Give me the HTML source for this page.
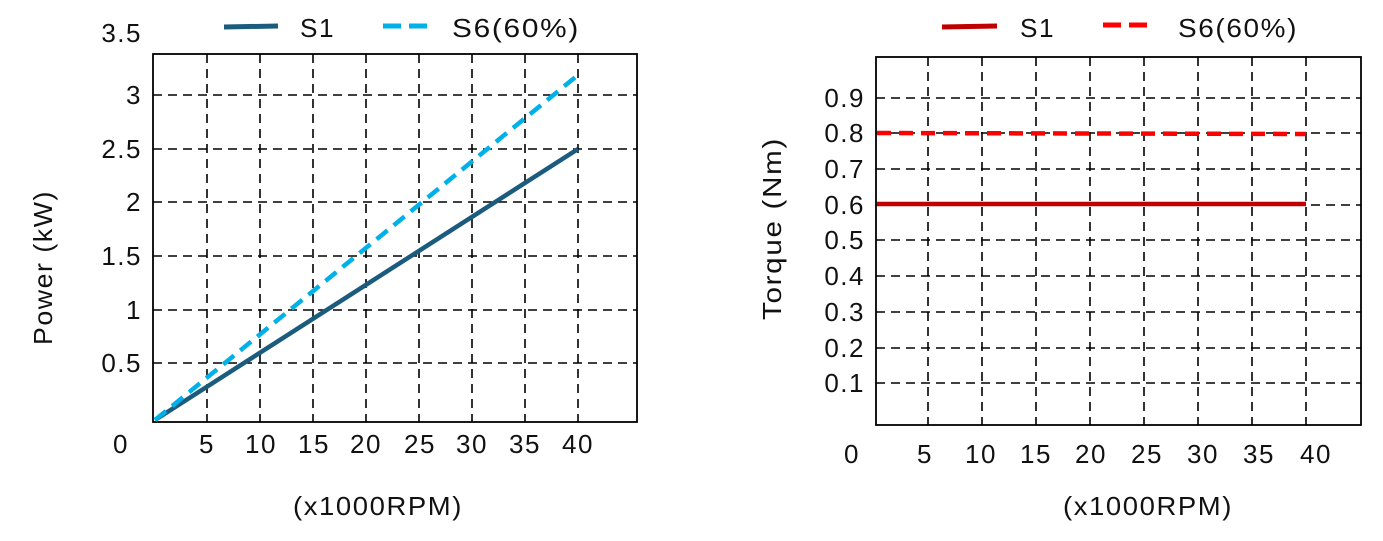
<!DOCTYPE html>
<html><head><meta charset="utf-8"><style>
body{margin:0;background:#fff;}
svg text{font-family:"Liberation Sans",sans-serif;font-size:26px;fill:#111;letter-spacing:1.5px;}
</style></head><body>
<svg width="1383" height="536" viewBox="0 0 1383 536" xmlns="http://www.w3.org/2000/svg">
<!-- LEFT CHART -->
<g stroke="#000" stroke-width="1.6" stroke-dasharray="9,6" fill="none">
<line x1="207" y1="54" x2="207" y2="422"/><line x1="260" y1="54" x2="260" y2="422"/>
<line x1="313" y1="54" x2="313" y2="422"/><line x1="366" y1="54" x2="366" y2="422"/>
<line x1="419" y1="54" x2="419" y2="422"/><line x1="472" y1="54" x2="472" y2="422"/>
<line x1="525" y1="54" x2="525" y2="422"/><line x1="578" y1="54" x2="578" y2="422"/>
<line x1="153" y1="95" x2="637" y2="95"/><line x1="153" y1="149" x2="637" y2="149"/>
<line x1="153" y1="202" x2="637" y2="202"/><line x1="153" y1="256" x2="637" y2="256"/>
<line x1="153" y1="310" x2="637" y2="310"/><line x1="153" y1="363" x2="637" y2="363"/>
</g>
<rect x="153" y="54" width="484" height="368" fill="none" stroke="#000" stroke-width="1.8"/>
<line x1="155" y1="420" x2="578" y2="149" stroke="#1b5c7e" stroke-width="4.5"/>
<line x1="155" y1="420" x2="578" y2="75" stroke="#00b0e8" stroke-width="4.5" stroke-dasharray="14,8"/>
<g text-anchor="end">
<text x="142" y="42">3.5</text><text x="142" y="104">3</text><text x="142" y="158">2.5</text>
<text x="142" y="211">2</text><text x="142" y="265">1.5</text><text x="142" y="319">1</text>
<text x="142" y="372">0.5</text>
</g>
<text x="121" y="453" text-anchor="middle">0</text>
<g text-anchor="middle">
<text x="207" y="453">5</text><text x="261" y="453">10</text><text x="314" y="453">15</text>
<text x="366" y="453">20</text><text x="420" y="453">25</text><text x="472" y="453">30</text>
<text x="525" y="453">35</text><text x="578" y="453">40</text>
</g>
<text x="293" y="515" textLength="170" lengthAdjust="spacingAndGlyphs">(x1000RPM)</text>
<text transform="translate(52,345) rotate(-90)" textLength="155" lengthAdjust="spacingAndGlyphs">Power (kW)</text>
<line x1="224" y1="27" x2="278" y2="26" stroke="#1b5c7e" stroke-width="5"/>
<text x="300" y="37" textLength="35" lengthAdjust="spacingAndGlyphs">S1</text>
<line x1="383" y1="26" x2="435" y2="26" stroke="#00b0e8" stroke-width="5" stroke-dasharray="18,8"/>
<text x="452" y="37" textLength="128" lengthAdjust="spacingAndGlyphs">S6(60%)</text>

<!-- RIGHT CHART -->
<g stroke="#000" stroke-width="1.6" stroke-dasharray="9,6" fill="none">
<line x1="928" y1="57" x2="928" y2="425"/><line x1="982" y1="57" x2="982" y2="425"/>
<line x1="1036" y1="57" x2="1036" y2="425"/><line x1="1090" y1="57" x2="1090" y2="425"/>
<line x1="1144" y1="57" x2="1144" y2="425"/><line x1="1198" y1="57" x2="1198" y2="425"/>
<line x1="1252" y1="57" x2="1252" y2="425"/><line x1="1306" y1="57" x2="1306" y2="425"/>
<line x1="876" y1="98" x2="1361" y2="98"/><line x1="876" y1="133" x2="1361" y2="133"/>
<line x1="876" y1="169" x2="1361" y2="169"/><line x1="876" y1="205" x2="1361" y2="205"/>
<line x1="876" y1="240" x2="1361" y2="240"/><line x1="876" y1="276" x2="1361" y2="276"/>
<line x1="876" y1="312" x2="1361" y2="312"/><line x1="876" y1="348" x2="1361" y2="348"/>
<line x1="876" y1="383" x2="1361" y2="383"/>
</g>
<rect x="876" y="57" width="485" height="368" fill="none" stroke="#000" stroke-width="1.8"/>
<line x1="877" y1="204" x2="1306" y2="204" stroke="#c00000" stroke-width="4.5"/>
<line x1="877" y1="133" x2="1306" y2="134" stroke="#ff0000" stroke-width="4.5" stroke-dasharray="14,8"/>
<g text-anchor="end">
<text x="865" y="107">0.9</text><text x="865" y="142">0.8</text><text x="865" y="178">0.7</text>
<text x="865" y="214">0.6</text><text x="865" y="249">0.5</text><text x="865" y="285">0.4</text>
<text x="865" y="321">0.3</text><text x="865" y="357">0.2</text><text x="865" y="392">0.1</text>
</g>
<g text-anchor="middle">
<text x="852" y="463">0</text>
<text x="925" y="463">5</text><text x="981" y="463">10</text><text x="1036" y="463">15</text>
<text x="1091" y="463">20</text><text x="1147" y="463">25</text><text x="1203" y="463">30</text>
<text x="1259" y="463">35</text><text x="1316" y="463">40</text>
</g>
<text x="1063" y="515" textLength="170" lengthAdjust="spacingAndGlyphs">(x1000RPM)</text>
<text transform="translate(781,320) rotate(-90)" textLength="183" lengthAdjust="spacingAndGlyphs">Torque  (Nm)</text>
<line x1="942" y1="27" x2="997" y2="26" stroke="#c00000" stroke-width="5"/>
<text x="1020" y="37" textLength="35" lengthAdjust="spacingAndGlyphs">S1</text>
<line x1="1103" y1="25" x2="1155" y2="25" stroke="#ff0000" stroke-width="5" stroke-dasharray="18,8"/>
<text x="1178" y="37" textLength="120" lengthAdjust="spacingAndGlyphs">S6(60%)</text>
</svg>
</body></html>
